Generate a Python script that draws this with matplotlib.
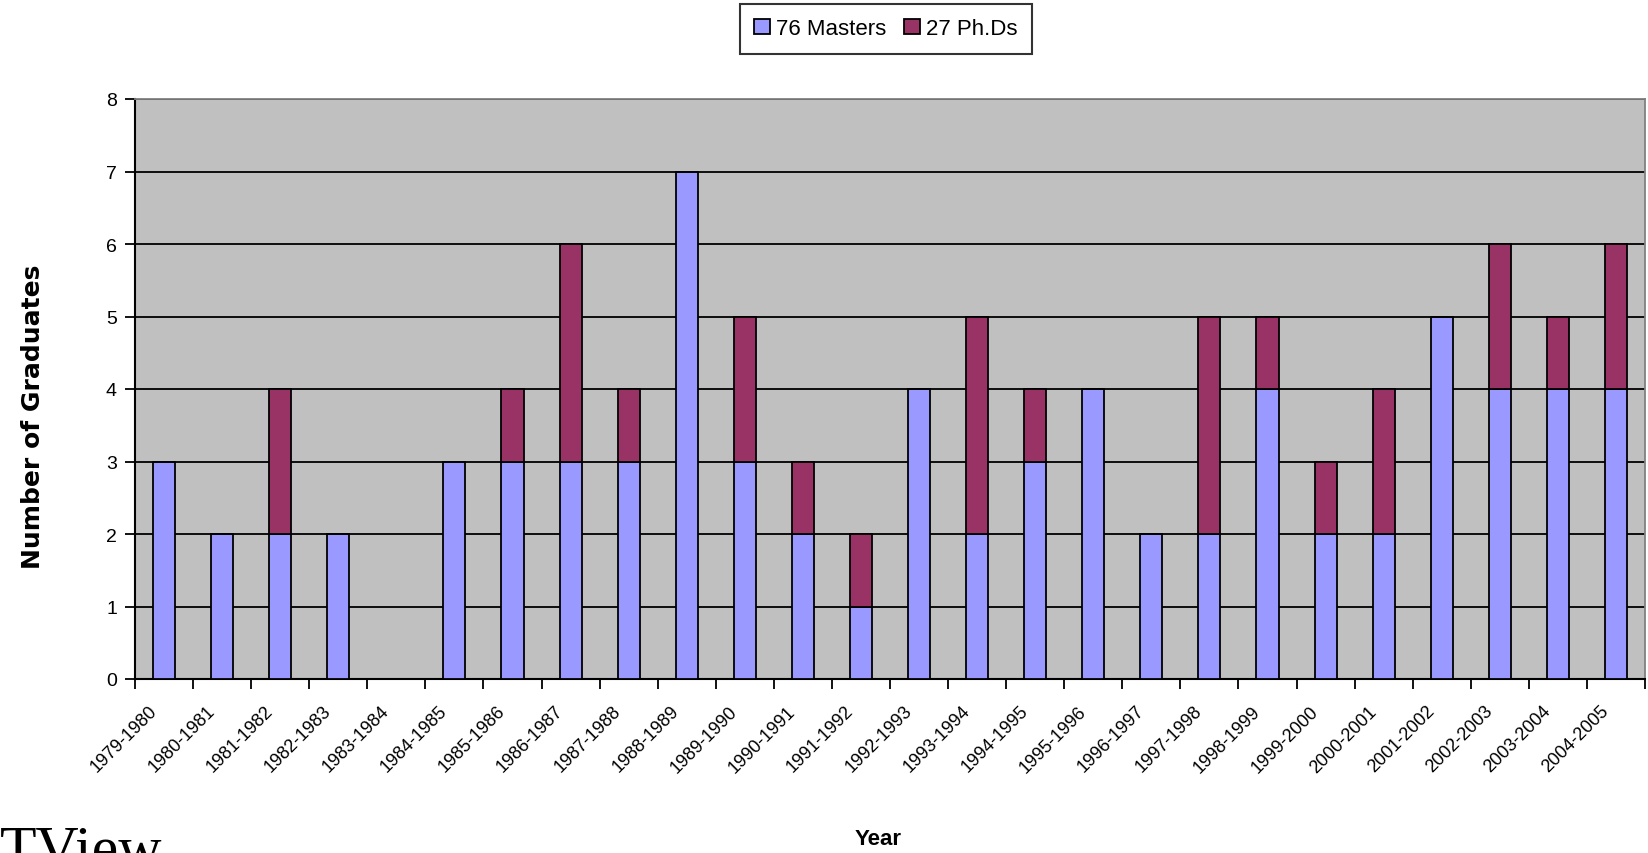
import matplotlib
matplotlib.use("Agg")
import matplotlib.pyplot as plt
import matplotlib.transforms as mtransforms
import numpy as np

years = ["1979-1980", "1980-1981", "1981-1982", "1982-1983", "1983-1984",
         "1984-1985", "1985-1986", "1986-1987", "1987-1988", "1988-1989",
         "1989-1990", "1990-1991", "1991-1992", "1992-1993", "1993-1994",
         "1994-1995", "1995-1996", "1996-1997", "1997-1998", "1998-1999",
         "1999-2000", "2000-2001", "2001-2002", "2002-2003", "2003-2004",
         "2004-2005"]
masters = [3, 2, 2, 2, 0, 3, 3, 3, 3, 7, 3, 2, 1, 4, 2, 3, 4, 2, 2, 4, 2, 2, 5, 4, 4, 4]
phds = [0, 0, 2, 0, 0, 0, 1, 3, 1, 0, 2, 1, 1, 0, 3, 1, 0, 0, 3, 1, 1, 2, 0, 2, 1, 2]
yticks = [0, 1, 2, 3, 4, 5, 6, 7, 8]

plt.rcParams["font.family"] = ["Liberation Sans", "DejaVu Sans"]

fig = plt.figure(figsize=(16.49, 8.54), dpi=100)
ax = fig.add_axes([135 / 1649, 1 - 680 / 854, 1510 / 1649, 580 / 854])
ax.set_facecolor("#C0C0C0")

x = np.arange(len(years))
w = 0.38
b1 = ax.bar(x, masters, w, color="#9999FF", edgecolor="black", linewidth=1.3,
            zorder=3, label="76 Masters")
b2 = ax.bar(x, phds, w, bottom=masters, color="#993366", edgecolor="black",
            linewidth=1.3, zorder=3, label="27 Ph.Ds")

ax.set_xlim(-0.5, len(years) - 0.5)
ax.set_ylim(0, 8)
ax.set_yticks(yticks)
ax.set_yticklabels([str(v) for v in yticks], fontsize=14)
ax.yaxis.grid(True, color="black", linewidth=1.3, zorder=1)
ax.set_axisbelow(True)

ax.set_xticks(x)
ax.set_xticklabels(years, rotation=45, ha="right", va="center",
                   rotation_mode="anchor", fontsize=13)
ax.tick_params(axis="x", which="major", length=0, pad=21)
shift = mtransforms.ScaledTranslation(-10 / 100, 0, fig.dpi_scale_trans)
for lbl in ax.get_xticklabels():
    lbl.set_transform(lbl.get_transform() + shift)
ax.set_xticks(np.arange(-0.5, len(years)), minor=True)
ax.tick_params(axis="x", which="minor", length=7, width=1.3, color="black")
ax.tick_params(axis="y", length=7, width=1.3, color="black", pad=6)

for s in ("top", "right"):
    ax.spines[s].set_color("#808080")
    ax.spines[s].set_linewidth(1.3)
for s in ("left", "bottom"):
    ax.spines[s].set_color("black")
    ax.spines[s].set_linewidth(1.5)

ax.set_ylabel("Number of Graduates", fontsize=18, fontweight="bold",
              family="DejaVu Sans")
ax.yaxis.set_label_coords(-90 / 1510, 0.453)
ax.set_xlabel("Year", fontsize=16, fontweight="bold",
              family=["Liberation Sans", "DejaVu Sans"])
ax.xaxis.set_label_coords((878 - 135) / 1510, -(840 - 680) / 580)
ax.xaxis.label.set_va("center")

leg = fig.legend(handles=[b1, b2], loc="upper center",
                 bbox_to_anchor=(886 / 1649, 1 - 5 / 854), borderaxespad=0,
                 ncol=2, fontsize=16,
                 frameon=True, fancybox=False, edgecolor="black",
                 handlelength=0.7, handleheight=0.7, handletextpad=0.3,
                 columnspacing=0.8, borderpad=0.65)
leg.get_frame().set_linewidth(1.5)

fig.text(0, -13 / 854, "TView", family="Liberation Serif", fontsize=43,
         va="baseline", ha="left")

fig.savefig("out.png", dpi=100)
